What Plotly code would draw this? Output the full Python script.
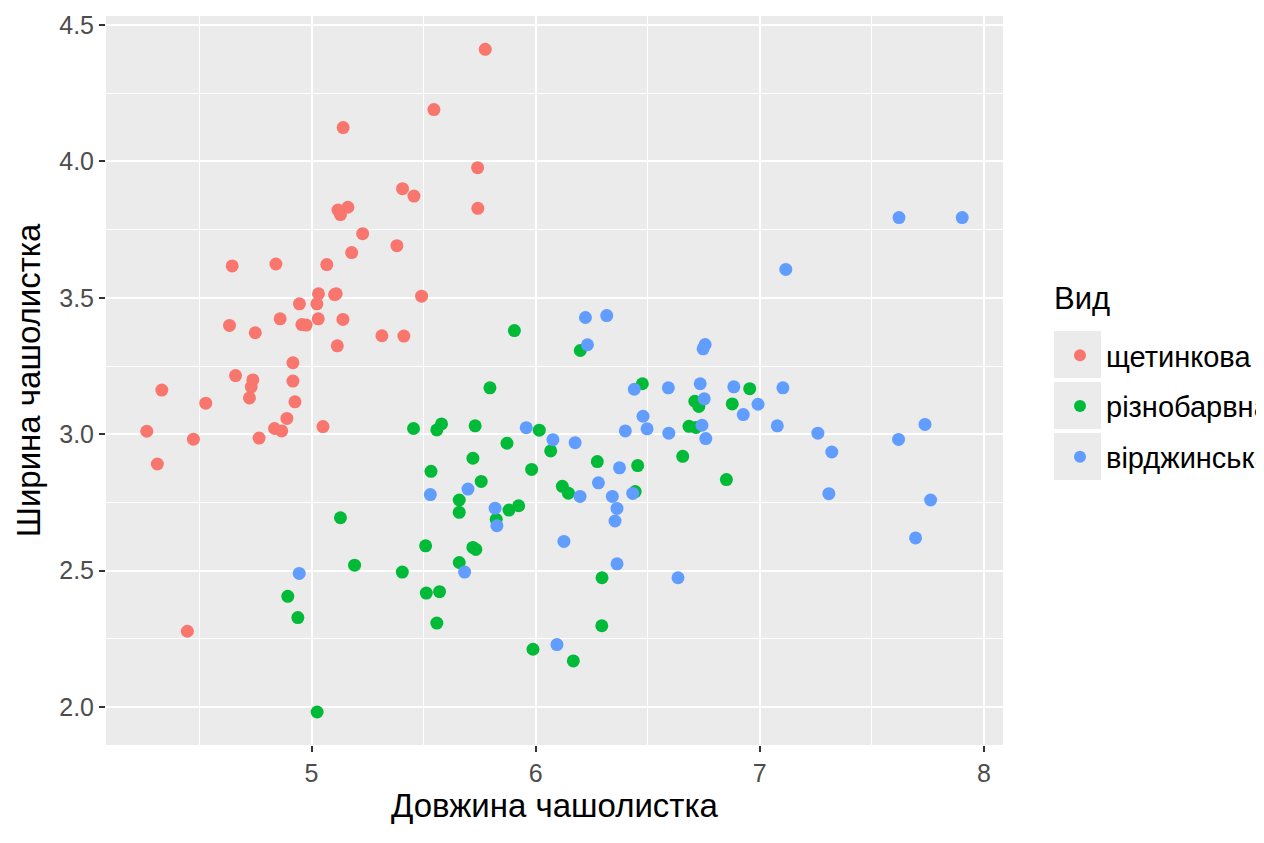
import plotly.graph_objects as go

# Точки (з джитером)
setosa_x = [
    5.775, 5.546, 5.141, 5.741, 5.406, 5.457, 5.742, 5.118, 5.162, 5.129,
    5.228, 5.381, 5.179, 4.646, 4.841, 5.068, 5.031, 5.103, 5.110, 5.491,
    4.946, 5.024, 4.634, 4.749, 4.860, 4.957, 4.976, 5.030, 5.140, 5.314,
    5.412, 5.115, 4.917, 4.661, 4.738, 4.731, 4.723, 4.917, 4.332, 4.528,
    4.926, 4.890, 4.835, 4.867, 5.051, 4.265, 4.473, 4.766, 4.312, 4.446,
]
setosa_y = [
    4.411, 4.190, 4.124, 3.977, 3.900, 3.873, 3.828, 3.822, 3.832, 3.805,
    3.735, 3.691, 3.666, 3.617, 3.624, 3.622, 3.515, 3.512, 3.515, 3.506,
    3.478, 3.478, 3.399, 3.372, 3.423, 3.402, 3.400, 3.423, 3.421, 3.361,
    3.360, 3.324, 3.262, 3.215, 3.199, 3.174, 3.133, 3.195, 3.162, 3.114,
    3.119, 3.058, 3.021, 3.012, 3.028, 3.011, 2.982, 2.986, 2.891, 2.278,
]

versicolor_x = [
    5.905, 6.199, 6.476, 6.955, 6.710, 6.728, 6.877, 6.684, 6.715, 6.016,
    5.872, 6.067, 6.656, 6.275, 6.455, 5.982, 6.851, 6.119, 6.146, 6.444,
    5.881, 5.924, 6.296, 6.295, 5.988, 6.168, 5.455, 5.559, 5.580, 5.730,
    5.720, 5.533, 5.757, 5.659, 5.659, 5.824, 5.509, 5.720, 5.733, 5.659,
    5.405, 5.512, 5.571, 5.559, 5.129, 5.192, 4.894, 4.939, 5.025, 5.796,
]
versicolor_y = [
    3.380, 3.307, 3.185, 3.167, 3.121, 3.102, 3.111, 3.029, 3.025, 3.015,
    2.967, 2.939, 2.919, 2.900, 2.885, 2.871, 2.834, 2.809, 2.784, 2.790,
    2.722, 2.738, 2.474, 2.298, 2.212, 2.169, 3.021, 3.016, 3.038, 3.031,
    2.912, 2.864, 2.827, 2.759, 2.714, 2.688, 2.591, 2.585, 2.578, 2.530,
    2.495, 2.418, 2.423, 2.308, 2.694, 2.520, 2.406, 2.328, 1.982, 3.170,
]

virginica_x = [
    6.222, 6.317, 6.231, 6.756, 6.747, 6.440, 6.592, 6.734, 6.884, 7.103,
    6.752, 6.992, 6.926, 6.479, 6.497, 6.742, 7.078, 6.400, 6.594, 6.759,
    5.958, 6.077, 6.176, 6.374, 6.280, 6.198, 6.342, 6.433, 6.363, 6.354,
    6.126, 6.363, 6.635, 6.095, 5.698, 5.530, 5.819, 5.827, 5.683, 4.945,
    7.621, 7.903, 7.116, 7.259, 7.619, 7.737, 7.321, 7.308, 7.762, 7.695,
]
virginica_y = [
    3.428, 3.435, 3.328, 3.329, 3.313, 3.165, 3.170, 3.185, 3.174, 3.170,
    3.130, 3.110, 3.072, 3.066, 3.020, 3.033, 3.031, 3.012, 3.004, 2.984,
    3.024, 2.980, 2.969, 2.877, 2.822, 2.772, 2.772, 2.783, 2.728, 2.682,
    2.607, 2.525, 2.474, 2.229, 2.799, 2.779, 2.729, 2.665, 2.495, 2.490,
    3.794, 3.794, 3.604, 3.004, 2.981, 3.036, 2.935, 2.782, 2.759, 2.620,
]

species = ["щетинкова", "різнобарвна", "вірджинська"]
xs = [setosa_x, versicolor_x, virginica_x]
ys = [setosa_y, versicolor_y, virginica_y]

# Палітра ggplot2 за замовчуванням
_COLORS = ["#F8766D", "#00BA38", "#619CFF"]
_FONT = "Liberation Sans, Arial, Helvetica, sans-serif"

# Сторінка має відступ 8px, тож фігура трохи менша за вікно.
_OFF = 8
W, H = 1264 - 2 * _OFF, 843 - 2 * _OFF
ML, MR, MT, MB = 106 - _OFF, 253, 16 - _OFF, 90
PW, PH = W - ML - MR, H - MT - MB


def px2paper(px, py):
    """Піксель вікна -> координати paper."""
    return (px - _OFF - ML) / PW, 1 - (py - _OFF - MT) / PH


fig = go.Figure()
for name, x, y, color in zip(species, xs, ys, _COLORS):
    fig.add_trace(
        go.Scatter(
            x=x,
            y=y,
            mode="markers",
            name=name,
            legendgroup=name,
            marker=dict(color=color, size=13, line=dict(width=0)),
        )
    )

# Сірі квадрати під ключами легенди (як у ggplot2)
shapes = []
for top in (331, 382, 433):
    x0, y0 = px2paper(1054, top)
    x1, y1 = px2paper(1101, top + 47)
    shapes.append(
        dict(type="rect", xref="paper", yref="paper", x0=x0, x1=x1, y0=y1, y1=y0,
             fillcolor="#EBEBEB", line=dict(width=0), layer="above")
    )

axis_common = dict(
    showgrid=True,
    gridcolor="white",
    gridwidth=2.2,
    zeroline=False,
    showline=False,
    ticks="outside",
    ticklen=6,
    tickwidth=2,
    tickcolor="#333333",
    tickfont=dict(size=25, color="#4D4D4D", family=_FONT),
)

# Заголовок легенди окремою анотацією, щоб точно поставити відступ
tx, ty = px2paper(1052, 298)
lx, ly = px2paper(1054, 330)
fig.update_layout(
    width=W,
    height=H,
    margin=dict(l=ML, r=MR, t=MT, b=MB, autoexpand=False),
    paper_bgcolor="white",
    plot_bgcolor="#EBEBEB",
    font=dict(family=_FONT, color="black"),
    shapes=shapes,
    annotations=[
        dict(text="Вид", xref="paper", yref="paper", x=tx, y=ty,
             xanchor="left", yanchor="middle", showarrow=False,
             font=dict(size=31, color="black")),
    ],
    xaxis=dict(
        axis_common,
        range=[4.083, 8.085],
        tickvals=[5, 6, 7, 8],
        ticktext=["5", "6", "7", "8"],
        minor=dict(tickvals=[4.5, 5.5, 6.5, 7.5], gridcolor="white", gridwidth=1.1, ticks=""),
        title=dict(text="Довжина чашолистка", font=dict(size=33, color="black"), standoff=6),
    ),
    yaxis=dict(
        axis_common,
        range=[1.861, 4.533],
        tickvals=[2.0, 2.5, 3.0, 3.5, 4.0, 4.5],
        ticktext=["2.0", "2.5", "3.0", "3.5", "4.0", "4.5"],
        minor=dict(tickvals=[2.25, 2.75, 3.25, 3.75, 4.25], gridcolor="white", gridwidth=1.1, ticks=""),
        title=dict(text="Ширина чашолистка", font=dict(size=33, color="black"), standoff=8),
    ),
    legend=dict(
        font=dict(size=29, color="black"),
        x=lx,
        y=ly,
        xanchor="left",
        yanchor="top",
        bgcolor="rgba(0,0,0,0)",
        tracegroupgap=10,
        itemwidth=42,
        itemsizing="constant",
    ),
)

fig.write_html("out.html")
